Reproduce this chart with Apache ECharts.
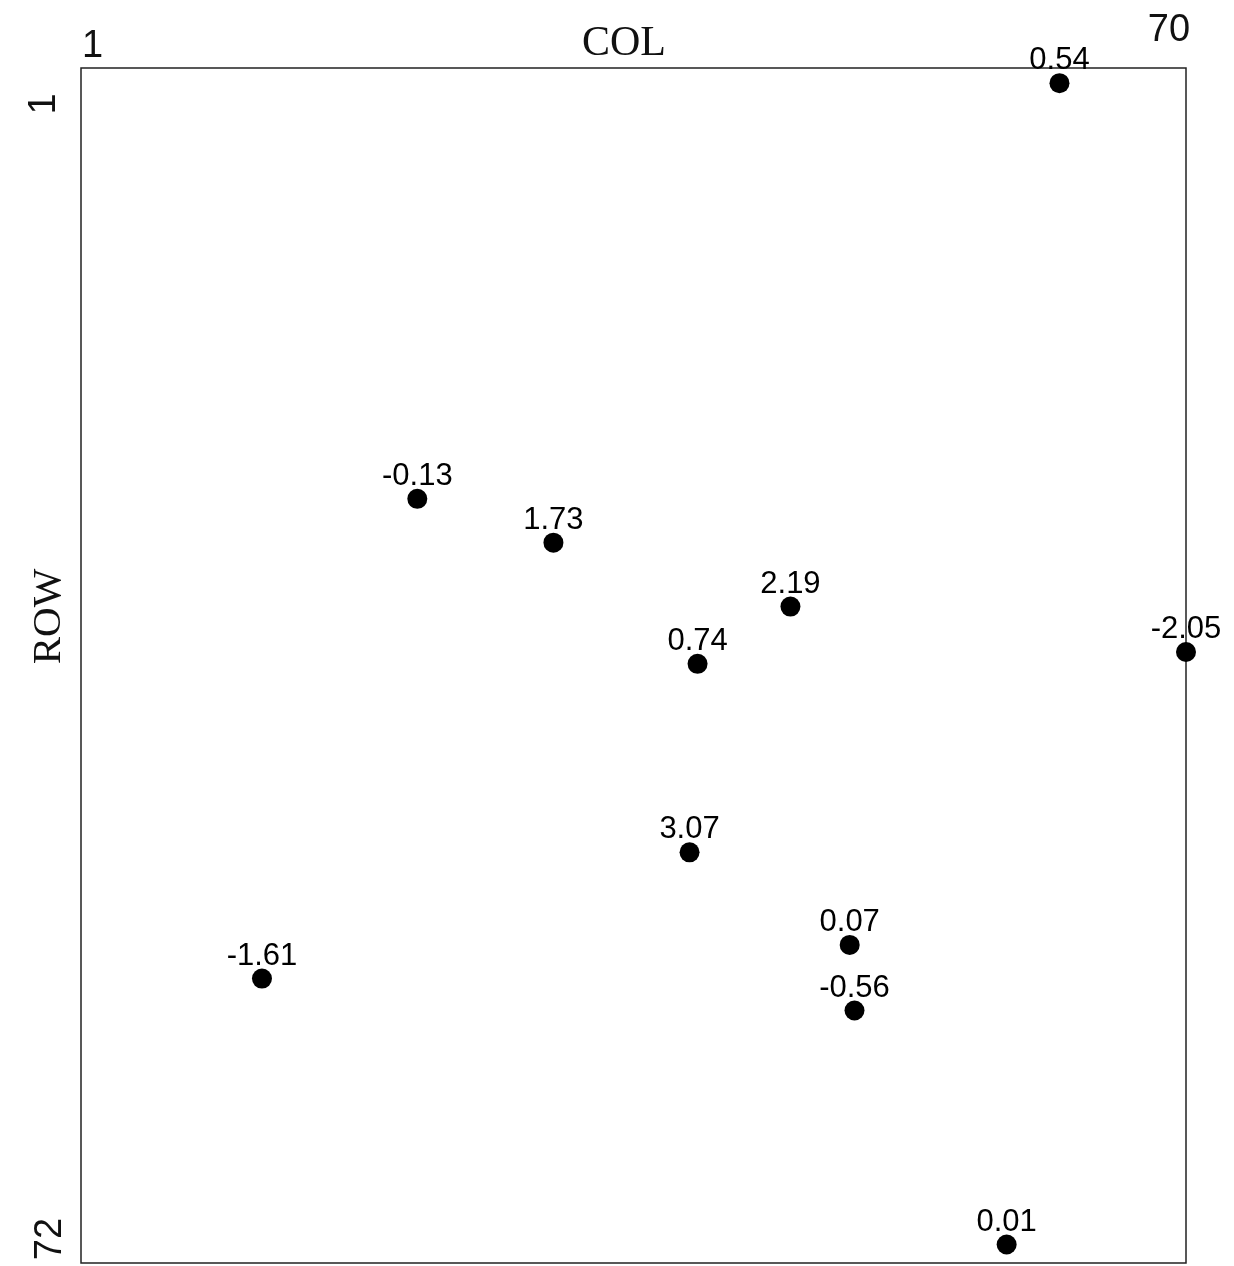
<!DOCTYPE html>
<html>
<head>
<meta charset="utf-8">
<script src="https://cdn.jsdelivr.net/npm/echarts@6/dist/echarts.min.js"></script>
<style>
  html, body { margin: 0; padding: 0; background: #fff; }
  #chart { width: 1234px; height: 1266px; }
</style>
</head>
<body>
<div id="chart"></div>
<script>
// point labels, column and row of each point
const labels = ['0.54', '-0.13', '1.73', '2.19', '-2.05', '0.74', '3.07', '0.07', '-1.61', '-0.56', '0.01'];
const cols = [62.1, 22.0, 30.5, 45.3, 70.0, 39.5, 39.0, 49.0, 12.3, 49.3, 58.8];
const rows = [1.9, 26.6, 29.2, 33.0, 35.7, 36.4, 47.6, 53.1, 55.1, 57.0, 70.9];

// axis end labels
const colTicks = [1, 70];
const rowTicks = [1, 72];

const chart = echarts.init(document.getElementById('chart'));

const numFont = '"Liberation Sans", Arial, sans-serif';
const nameFont = '"Liberation Serif", "Times New Roman", serif';

chart.setOption({
  animation: false,
  grid: {
    left: 81,
    right: 48,
    top: 68,
    bottom: 3,
    show: true,
    borderColor: '#222',
    borderWidth: 1.5,
    containLabel: false,
    outerBoundsMode: 'none'
  },
  xAxis: {
    type: 'value',
    position: 'top',
    min: colTicks[0],
    max: colTicks[1],
    interval: colTicks[1] - colTicks[0],
    name: 'COL',
    nameLocation: 'middle',
    nameGap: 3,
    nameMoveOverlap: false,
    nameTextStyle: {
      fontFamily: nameFont,
      fontSize: 42,
      color: '#111',
      padding: [0, 19, 0, 0]
    },
    axisLine: { show: false },
    axisTick: { show: false },
    splitLine: { show: false },
    axisLabel: {
      margin: 2,
      formatter: (val) => {
        if (val === colTicks[0]) return '{a|' + val + '}';
        if (val === colTicks[1]) return '{b|' + val + '}';
        return '';
      },
      rich: {
        a: { fontFamily: numFont, fontSize: 38, color: '#111', padding: [0, 0, 0, 23] },
        b: { fontFamily: numFont, fontSize: 38, color: '#111', padding: [0, 34, 16, 0] }
      }
    }
  },
  yAxis: {
    type: 'value',
    inverse: true,
    min: rowTicks[0],
    max: rowTicks[1],
    interval: rowTicks[1] - rowTicks[0],
    name: 'ROW',
    nameLocation: 'middle',
    nameGap: 11,
    nameMoveOverlap: false,
    nameTextStyle: {
      fontFamily: nameFont,
      fontSize: 41,
      color: '#111',
      padding: [0, 0, 0, 98]
    },
    axisLine: { show: false },
    axisTick: { show: false },
    splitLine: { show: false },
    axisLabel: {
      rotate: 90,
      margin: 11,
      formatter: (val) => {
        if (val === rowTicks[0]) return '{a|' + val + '}';
        if (val === rowTicks[1]) return '{b|' + val + '}';
        return '';
      },
      rich: {
        a: { fontFamily: numFont, fontSize: 38, color: '#111', padding: [0, 72, 6, 0] },
        b: { fontFamily: numFont, fontSize: 38, color: '#111', padding: [0, 0, 0, 48] }
      }
    }
  },
  series: [{
    type: 'scatter',
    symbol: 'circle',
    symbolSize: 20,
    itemStyle: { color: '#000', opacity: 1 },
    label: {
      show: true,
      position: 'top',
      distance: -3,
      fontFamily: numFont,
      fontSize: 31,
      color: '#000',
      opacity: 1,
      formatter: (p) => labels[p.dataIndex]
    },
    data: cols.map((c, i) => [c, rows[i]])
  }]
});
</script>
</body>
</html>
